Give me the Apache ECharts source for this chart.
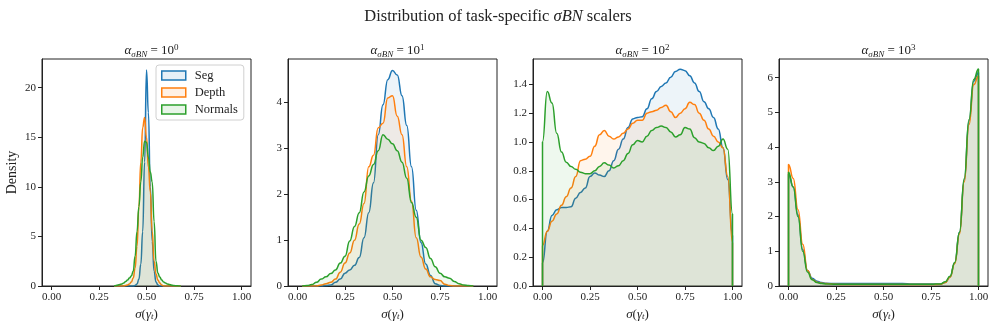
<!DOCTYPE html>
<html lang="en">
<head>
    <meta charset="UTF-8">
    <title>Distribution of task-specific sigma BN scalers</title>
    <style>
        html, body { margin: 0; padding: 0; background: #fff; }
    </style>
</head>
<body>
<div id="main" style="width:996px;height:329px;"></div>
<script src="https://cdn.jsdelivr.net/npm/echarts@6/dist/echarts.min.js"></script>
<script>
    // data (KDE curves)
    var names = ['Seg', 'Depth', 'Normals'];
    var colors = ['#1f77b4', '#ff7f0e', '#2ca02c'];
    var fills = ['rgba(31,119,180,0.11)', 'rgba(255,127,14,0.11)', 'rgba(44,160,44,0.11)'];
    var panelExp = ['0', '1', '2', '3'];

    var xTicks = [0, 0.25, 0.5, 0.75, 1];
    var yTicks1 = [0, 5, 10, 15, 20];
    var yTicks2 = [0, 1, 2, 3, 4];
    var yTicks3 = [0, 0.2, 0.4, 0.6, 0.8, 1.0, 1.2, 1.4];
    var yTicks4 = [0, 1, 2, 3, 4, 5, 6];
    var yMax = [22.9, 4.95, 1.576, 6.54];

    // alpha = 10^0
    var x1 = [0.33, 0.34, 0.35, 0.36, 0.37, 0.38, 0.39, 0.40, 0.41, 0.42, 0.43, 0.44, 0.45, 0.46, 0.47, 0.48, 0.49, 0.50,
        0.51, 0.52, 0.53, 0.54, 0.55, 0.56, 0.57, 0.58, 0.59, 0.60, 0.61, 0.62, 0.63, 0.64, 0.65, 0.66, 0.67, 0.68];
    var seg1 = [0, 0, 0, 0, 0, 0, 0, 0, 0, 0, 0, 0.05, 0.2, 0.7, 2.2, 5.5, 12.5, 21.8,
        17.5, 10, 4.5, 1.5, 0.4, 0.1, 0, 0, 0, 0, 0, 0, 0, 0, 0, 0, 0, 0];
    var depth1 = [0, 0, 0, 0, 0, 0, 0.05, 0.1, 0.2, 0.4, 0.8, 1.8, 4, 8, 12.5, 16, 17, 15,
        12, 9.5, 5.5, 2.5, 1.2, 0.6, 0.3, 0.1, 0, 0, 0, 0, 0, 0, 0, 0, 0, 0];
    var normals1 = [0, 0.05, 0.1, 0.15, 0.2, 0.3, 0.45, 0.6, 0.8, 1.0, 1.5, 3, 5.5, 8, 10.5, 13, 14.6, 14.5,
        13, 11.5, 10.5, 6.5, 2.5, 1.3, 0.9, 0.6, 0.4, 0.3, 0.2, 0.15, 0.1, 0.05, 0.03, 0.02, 0.01, 0];

    // alpha = 10^1
    var x2 = [0.025, 0.05, 0.075, 0.1, 0.125, 0.15, 0.175, 0.2, 0.225, 0.25, 0.275, 0.3, 0.325, 0.35, 0.375, 0.4,
        0.425, 0.45, 0.475, 0.5, 0.525, 0.55, 0.575, 0.6, 0.625, 0.65, 0.675, 0.7, 0.725, 0.75, 0.775, 0.8,
        0.825, 0.85, 0.875, 0.9, 0.925];
    var seg2 = [0, 0, 0, 0, 0, 0.01, 0.02, 0.08, 0.15, 0.28, 0.35, 0.45, 0.62, 1.05, 1.6, 2.25,
        3.3, 3.95, 4.5, 4.7, 4.6, 4.15, 3.5, 2.6, 1.65, 0.95, 0.48, 0.23, 0.05, 0.01, 0, 0,
        0, 0, 0, 0, 0];
    var depth2 = [0, 0, 0, 0, 0.02, 0.05, 0.08, 0.15, 0.3, 0.5, 0.72, 1.0, 1.35, 1.8, 2.6, 2.85,
        3.45, 3.55, 4.1, 4.15, 3.7, 3.3, 2.6, 1.85, 1.05, 0.63, 0.37, 0.2, 0.14, 0.12, 0.04, 0.01,
        0, 0, 0, 0, 0];
    var normals2 = [0, 0.01, 0.03, 0.08, 0.15, 0.2, 0.27, 0.35, 0.5, 0.65, 0.98, 1.3, 1.6, 2.05, 2.4, 2.65,
        2.95, 3.3, 3.2, 3.1, 2.95, 2.7, 2.35, 1.82, 1.5, 1.0, 0.84, 0.6, 0.42, 0.28, 0.2, 0.17,
        0.1, 0.05, 0.02, 0.01, 0];

    // alpha = 10^2
    var x3 = [0, 0.025, 0.05, 0.075, 0.1, 0.125, 0.15, 0.175, 0.2, 0.225, 0.25, 0.275, 0.3, 0.325, 0.35, 0.375,
        0.4, 0.425, 0.45, 0.475, 0.5, 0.525, 0.55, 0.575, 0.6, 0.625, 0.65, 0.675, 0.7, 0.725, 0.75, 0.775,
        0.8, 0.825, 0.85, 0.875, 0.9, 0.925, 0.95, 0.975, 1.0];
    var seg3 = [0.16, 0.38, 0.49, 0.53, 0.545, 0.545, 0.55, 0.61, 0.65, 0.68, 0.76, 0.785, 0.77, 0.76, 0.8, 0.87,
        0.95, 1.02, 1.1, 1.16, 1.17, 1.175, 1.23, 1.3, 1.35, 1.385, 1.41, 1.45, 1.49, 1.505, 1.495, 1.46,
        1.41, 1.35, 1.28, 1.23, 1.17, 1.09, 0.96, 0.74, 0.35];
    var depth3 = [0.28, 0.38, 0.45, 0.5, 0.56, 0.62, 0.68, 0.76, 0.87, 0.88, 0.9, 0.97, 1.05, 1.08, 1.04, 1.02,
        1.035, 1.06, 1.09, 1.13, 1.15, 1.15, 1.2, 1.21, 1.22, 1.24, 1.255, 1.21, 1.17, 1.2, 1.23, 1.275,
        1.26, 1.2, 1.15, 1.09, 1.04, 1.0, 0.96, 0.76, 0.3];
    var normals3 = [1.0, 1.35, 1.27, 1.06, 0.93, 0.86, 0.83, 0.81, 0.79, 0.78, 0.78, 0.8, 0.83, 0.855, 0.84, 0.82,
        0.835, 0.87, 0.92, 0.98, 1.01, 1.0, 1.04, 1.08, 1.1, 1.11, 1.1, 1.07, 1.035, 1.05, 1.1, 1.09,
        1.03, 1.0, 0.99, 0.96, 0.94, 0.97, 1.02, 0.95, 0.5];

    // alpha = 10^3
    var x4 = [0, 0.025, 0.05, 0.075, 0.1, 0.125, 0.15, 0.175, 0.2, 0.25, 0.3, 0.35, 0.4, 0.45, 0.5, 0.55,
        0.6, 0.65, 0.7, 0.75, 0.8, 0.825, 0.85, 0.875, 0.9, 0.925, 0.95, 0.975, 1.0];
    var seg4 = [3.22, 2.85, 2.05, 1.05, 0.45, 0.22, 0.14, 0.1, 0.08, 0.07, 0.07, 0.07, 0.07, 0.07, 0.07, 0.07,
        0.07, 0.06, 0.06, 0.06, 0.06, 0.1, 0.26, 0.67, 1.55, 3.05, 4.75, 5.9, 6.15];
    var depth4 = [3.5, 3.1, 2.2, 1.2, 0.45, 0.19, 0.11, 0.08, 0.07, 0.05, 0.04, 0.04, 0.04, 0.04, 0.04, 0.04,
        0.04, 0.04, 0.04, 0.04, 0.05, 0.1, 0.25, 0.65, 1.5, 3.0, 4.65, 5.8, 6.05];
    var normals4 = [3.28, 2.85, 2.0, 1.0, 0.4, 0.18, 0.1, 0.07, 0.06, 0.05, 0.05, 0.05, 0.05, 0.05, 0.05, 0.05,
        0.05, 0.05, 0.05, 0.05, 0.06, 0.12, 0.28, 0.68, 1.55, 3.1, 4.8, 5.95, 6.25];

    var panels = [
        {xs: x1, ys: [seg1, depth1, normals1], yTicks: yTicks1, fmt: function (v) { return String(v); }, edge: false},
        {xs: x2, ys: [seg2, depth2, normals2], yTicks: yTicks2, fmt: function (v) { return String(v); }, edge: false},
        {xs: x3, ys: [seg3, depth3, normals3], yTicks: yTicks3, fmt: function (v) { return v.toFixed(1); }, edge: true},
        {xs: x4, ys: [seg4, depth4, normals4], yTicks: yTicks4, fmt: function (v) { return String(v); }, edge: true}
    ];

    var font = 'Liberation Serif';
    var ink = '#222';
    var lefts = [42, 288, 533, 779];
    var plotW = 209, plotTop = 59, plotH = 227;

    var myChart = echarts.init(document.getElementById('main'), null, {renderer: 'canvas'});

    var grids = [], xAxes = [], yAxes = [], series = [];
    var titles = [{
        text: 'Distribution of task-specific {i|σBN} scalers',
        left: 'center',
        top: 3,
        textStyle: {
            fontFamily: font, fontSize: 16.5, fontWeight: 'normal', color: ink,
            rich: {i: {fontFamily: font, fontSize: 16.5, fontStyle: 'italic', color: ink}}
        }
    }];

    panels.forEach(function (p, k) {
        grids.push({left: lefts[k], top: plotTop, width: plotW, height: plotH,
            show: true, borderColor: ink, borderWidth: 1, backgroundColor: 'transparent'});

        titles.push({
            text: '{a|α}{s|σBN}{b| = 10}{p|' + panelExp[k] + '}',
            left: lefts[k] + plotW / 2,
            textAlign: 'center',
            top: 38,
            textStyle: {
                fontFamily: font, fontSize: 13, fontWeight: 'normal', color: ink,
                rich: {
                    a: {fontFamily: font, fontSize: 13, fontStyle: 'italic', color: ink, lineHeight: 16},
                    s: {fontFamily: font, fontSize: 9, fontStyle: 'italic', color: ink, verticalAlign: 'bottom', lineHeight: 9, padding: [5, 0, 0, 0]},
                    b: {fontFamily: font, fontSize: 13, color: ink, lineHeight: 16},
                    p: {fontFamily: font, fontSize: 9, color: ink, verticalAlign: 'top', lineHeight: 9, padding: [0, 0, 5, 0]}
                }
            }
        });

        xAxes.push({
            type: 'value', gridIndex: k, min: -0.05, max: 1.05,
            name: '{i|σ}({i|γ}{s|t})',
            nameLocation: 'middle', nameGap: 21,
            nameTextStyle: {
                fontFamily: font, fontSize: 13, color: ink,
                rich: {
                    i: {fontFamily: font, fontSize: 13, fontStyle: 'italic', color: ink},
                    s: {fontFamily: font, fontSize: 9, fontStyle: 'italic', color: ink, verticalAlign: 'bottom', padding: [5, 0, 0, 0]}
                }
            },
            splitLine: {show: false},
            axisLine: {show: true, onZero: false, lineStyle: {color: ink, width: 1}},
            axisTick: {show: true, length: 4, customValues: xTicks, lineStyle: {color: ink}},
            axisLabel: {customValues: xTicks, margin: 6, fontFamily: font, fontSize: 11, color: ink,
                formatter: function (v) { return v.toFixed(2); }}
        });

        yAxes.push({
            type: 'value', gridIndex: k, min: 0, max: yMax[k],
            name: k === 0 ? 'Density' : '',
            nameLocation: 'middle', nameGap: 23,
            nameTextStyle: {fontFamily: font, fontSize: 14, color: ink},
            splitLine: {show: false},
            axisLine: {show: true, onZero: false, lineStyle: {color: ink, width: 1}},
            axisTick: {show: true, length: 4, customValues: p.yTicks, lineStyle: {color: ink}},
            axisLabel: {customValues: p.yTicks, margin: 6, fontFamily: font, fontSize: 11, color: ink,
                formatter: p.fmt}
        });

        for (var s = 0; s < 3; s++) {
            var ys = p.ys[s];
            var data = p.xs.map(function (x, i) { return [x, ys[i]]; });
            if (p.edge) {
                data.unshift([p.xs[0], 0]);
                data.push([p.xs[p.xs.length - 1], 0]);
            }
            series.push({
                name: names[s],
                type: 'line',
                xAxisIndex: k,
                yAxisIndex: k,
                data: data,
                smooth: 0.5,
                smoothMonotone: 'x',
                showSymbol: false,
                symbol: 'none',
                silent: true,
                z: 2 + s,
                lineStyle: {color: colors[s], width: 1.5},
                itemStyle: {color: colors[s]},
                areaStyle: {color: fills[s], origin: 'start'}
            });
        }
    });

    var option = {
        backgroundColor: '#fff',
        animation: false,
        title: titles,
        legend: {
            orient: 'vertical',
            left: 156,
            top: 65,
            padding: [4, 6, 4, 5],
            itemGap: 4,
            itemWidth: 24,
            itemHeight: 9,
            backgroundColor: '#fff',
            borderColor: '#d0d0d0',
            borderWidth: 1,
            borderRadius: 3,
            textStyle: {fontFamily: font, fontSize: 12.5, color: ink, padding: [0, 0, 0, 4]},
            data: names.map(function (n, i) {
                return {name: n, icon: 'rect',
                    itemStyle: {color: fills[i], borderColor: colors[i], borderWidth: 1.5}};
            })
        },
        grid: grids,
        xAxis: xAxes,
        yAxis: yAxes,
        series: series
    };
    myChart.setOption(option);
</script>
</body>
</html>
